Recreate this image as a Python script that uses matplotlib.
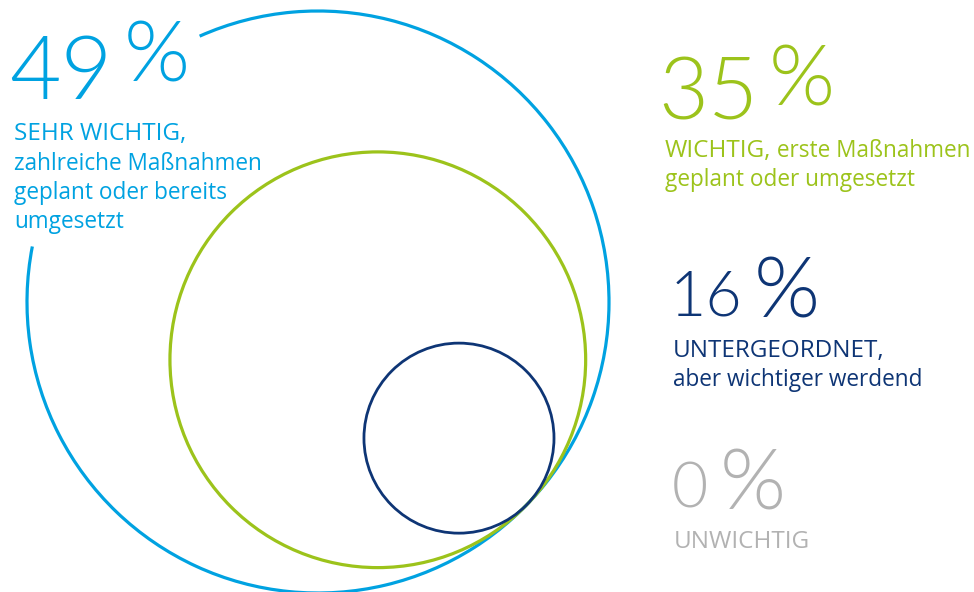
import numpy as np
import matplotlib
matplotlib.use("Agg")
import matplotlib.pyplot as plt
from matplotlib.patches import Circle, Arc

# data
shares = [49, 35, 16, 0]
colors = ["#00a2e1", "#9cc31b", "#0e3575", "#b2b2b2"]
heads = ["SEHR WICHTIG,", "WICHTIG,", "UNTERGEORDNET,", "UNWICHTIG"]
inline_sub = [None, " erste Maßnahmen", None, None]
subs = [["zahlreiche Maßnahmen", "geplant oder bereits", "umgesetzt"],
        ["geplant oder umgesetzt"],
        ["aber wichtiger werdend"],
        []]

plt.rcParams["font.family"] = ["Open Sans", "DejaVu Sans"]
num_font = ["Lato", "Open Sans", "DejaVu Sans"]

fig = plt.figure(figsize=(9.74, 5.92), dpi=100)
ax = fig.add_axes([0, 0, 1, 1])
ax.set_xlim(0, 974)
ax.set_ylim(592, 0)
ax.set_aspect("equal")
ax.axis("off")

# circles touch in one point, radius proportional to share
R = 291.0
u = np.array([np.cos(np.radians(44)), np.sin(np.radians(44))])
touch = np.array([318.0, 302.0]) + R * u
for i, s in enumerate(shares[:3]):
    r = R * s / shares[0]
    c = touch - r * u
    if i == 0:
        # gap where the label sits
        ax.add_patch(Arc(c, 2 * r, 2 * r, theta1=-114, theta2=191,
                         color=colors[i], lw=2.3))
    else:
        ax.add_patch(Circle(c, r, fill=False, ec=colors[i],
                            lw=2.3 if i == 1 else 2.0))

# label layout: number x, number baseline, number size, head x, head baseline
pos = [(9, 99, 64, 14, 140),
       (658, 120, 62, 665, 157),
       (670, 315, 45, 673, 357),
       (672, 507, 45, 674, 548)]
line_h = 29.5
pct_size = 61
gap = 11

renderer = fig.canvas.get_renderer()
inv = ax.transData.inverted()

for i, s in enumerate(shares):
    x, y, fs, hx, hy = pos[i]
    num = ax.text(x, y, str(s), fontsize=fs, color=colors[i], family=num_font,
                  fontweight=300, va="baseline", ha="left")
    bb = num.get_window_extent(renderer=renderer)
    x_end = inv.transform((bb.x1, bb.y0))[0]
    # percent sign: same size everywhere, top a bit above the digits
    ax.text(x_end + gap, y - fs + 47, "%", fontsize=pct_size, color=colors[i],
            family=num_font, fontweight=300, va="baseline", ha="left")
    head = ax.text(hx, hy, heads[i], fontsize=17.5, color=colors[i],
                   va="baseline", ha="left")
    if inline_sub[i]:
        ax.annotate(inline_sub[i], xy=(1, 0), xycoords=head, xytext=(0, 0),
                    textcoords="offset points", fontsize=16.3, color=colors[i],
                    va="bottom", ha="left")
    for k, line in enumerate(subs[i]):
        ax.text(hx, hy + line_h * (k + 1), line,
                fontsize=16.3, color=colors[i], va="baseline", ha="left")

fig.savefig("out.png", dpi=100)
